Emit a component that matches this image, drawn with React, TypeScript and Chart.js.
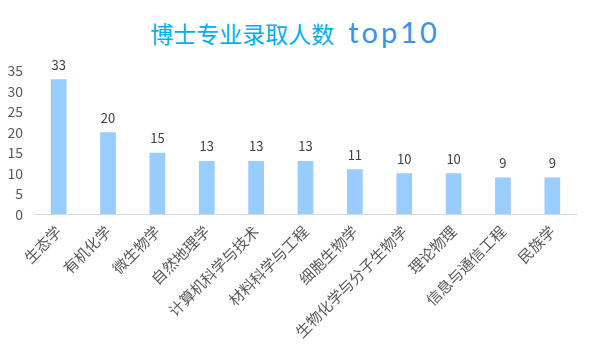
import React, { useEffect, useRef } from "react";
import { Chart, registerables } from "chart.js";

Chart.register(...registerables);

const titleMain = "博士专业录取人数";
const titleTail = "top10";
const categories = [
  "生态学",
  "有机化学",
  "微生物学",
  "自然地理学",
  "计算机科学与技术",
  "材料科学与工程",
  "细胞生物学",
  "生物化学与分子生物学",
  "理论物理",
  "信息与通信工程",
  "民族学",
];
const admissions = [33, 20, 15, 13, 13, 13, 11, 10, 10, 9, 9];
const yTicks = [0, 5, 10, 15, 20, 25, 30, 35];

const FONT = "'Noto Sans CJK SC', 'Noto Sans', sans-serif";

const valueLabels = {
  id: "valueLabels",
  afterDatasetsDraw(chart: any) {
    const ctx = chart.ctx;
    const meta = chart.getDatasetMeta(0);
    ctx.save();
    ctx.font = `13px ${FONT}`;
    ctx.fillStyle = "#404040";
    ctx.textAlign = "center";
    ctx.textBaseline = "bottom";
    meta.data.forEach((bar: any, i: number) => {
      ctx.fillText(String(chart.data.datasets[0].data[i]), bar.x, bar.y - 8);
    });
    ctx.restore();
  },
};

export default function App() {
  const ref = useRef<HTMLCanvasElement>(null);
  useEffect(() => {
    if (!ref.current) return;
    const chart = new Chart(ref.current, {
      type: "bar",
      data: {
        labels: categories,
        datasets: [
          {
            data: admissions,
            backgroundColor: "#99ccff",
            barPercentage: 0.6,
            categoryPercentage: 0.53,
          },
        ],
      },
      options: {
        animation: false,
        responsive: false,
        maintainAspectRatio: false,
        layout: { padding: { top: 71, left: 8, right: 13, bottom: 3 } },
        plugins: {
          legend: { display: false },
          tooltip: { enabled: false },
          title: { display: false },
        },
        scales: {
          x: {
            grid: { display: false, drawTicks: false },
            border: { display: true, color: "#d9d9d9", width: 1 },
            afterFit: (scale: any) => {
              scale.paddingLeft = 0;
              scale.paddingRight = 0;
            },
            ticks: {
              color: "#595959",
              font: { size: 15, family: FONT },
              minRotation: 45,
              maxRotation: 45,
              padding: 8,
              autoSkip: false,
            },
          },
          y: {
            min: 0,
            max: 35,
            afterBuildTicks: (axis: any) => {
              axis.ticks = yTicks.map((v) => ({ value: v }));
            },
            afterFit: (scale: any) => {
              scale.width = 26;
            },
            grid: { display: false, drawTicks: false },
            border: { display: false },
            ticks: {
              color: "#595959",
              font: { size: 14, family: FONT },
              padding: 11,
            },
          },
        },
      },
      plugins: [valueLabels],
    });
    return () => chart.destroy();
  }, []);

  return (
    <div
      style={{
        position: "fixed",
        left: 0,
        top: 0,
        width: 590,
        height: 352,
        background: "#fff",
      }}
    >
      <div
        style={{
          position: "absolute",
          top: 12,
          left: 0,
          width: 590,
          textAlign: "center",
          whiteSpace: "nowrap",
          lineHeight: "40px",
        }}
      >
        <span
          style={{
            fontFamily: FONT,
            fontSize: 23,
            color: "#00b0f0",
            fontWeight: 400,
          }}
        >
          {titleMain}
        </span>
        <span
          style={{
            fontFamily: "Lato, 'Open Sans', sans-serif",
            fontSize: 29,
            fontWeight: 400,
            color: "#3a91f0",
            marginLeft: 14,
            letterSpacing: 3,
          }}
        >
          {titleTail}
        </span>
      </div>
      <canvas
        ref={ref}
        width={590}
        height={352}
        style={{ position: "absolute", left: 0, top: 0, width: 590, height: 352 }}
      />
    </div>
  );
}
